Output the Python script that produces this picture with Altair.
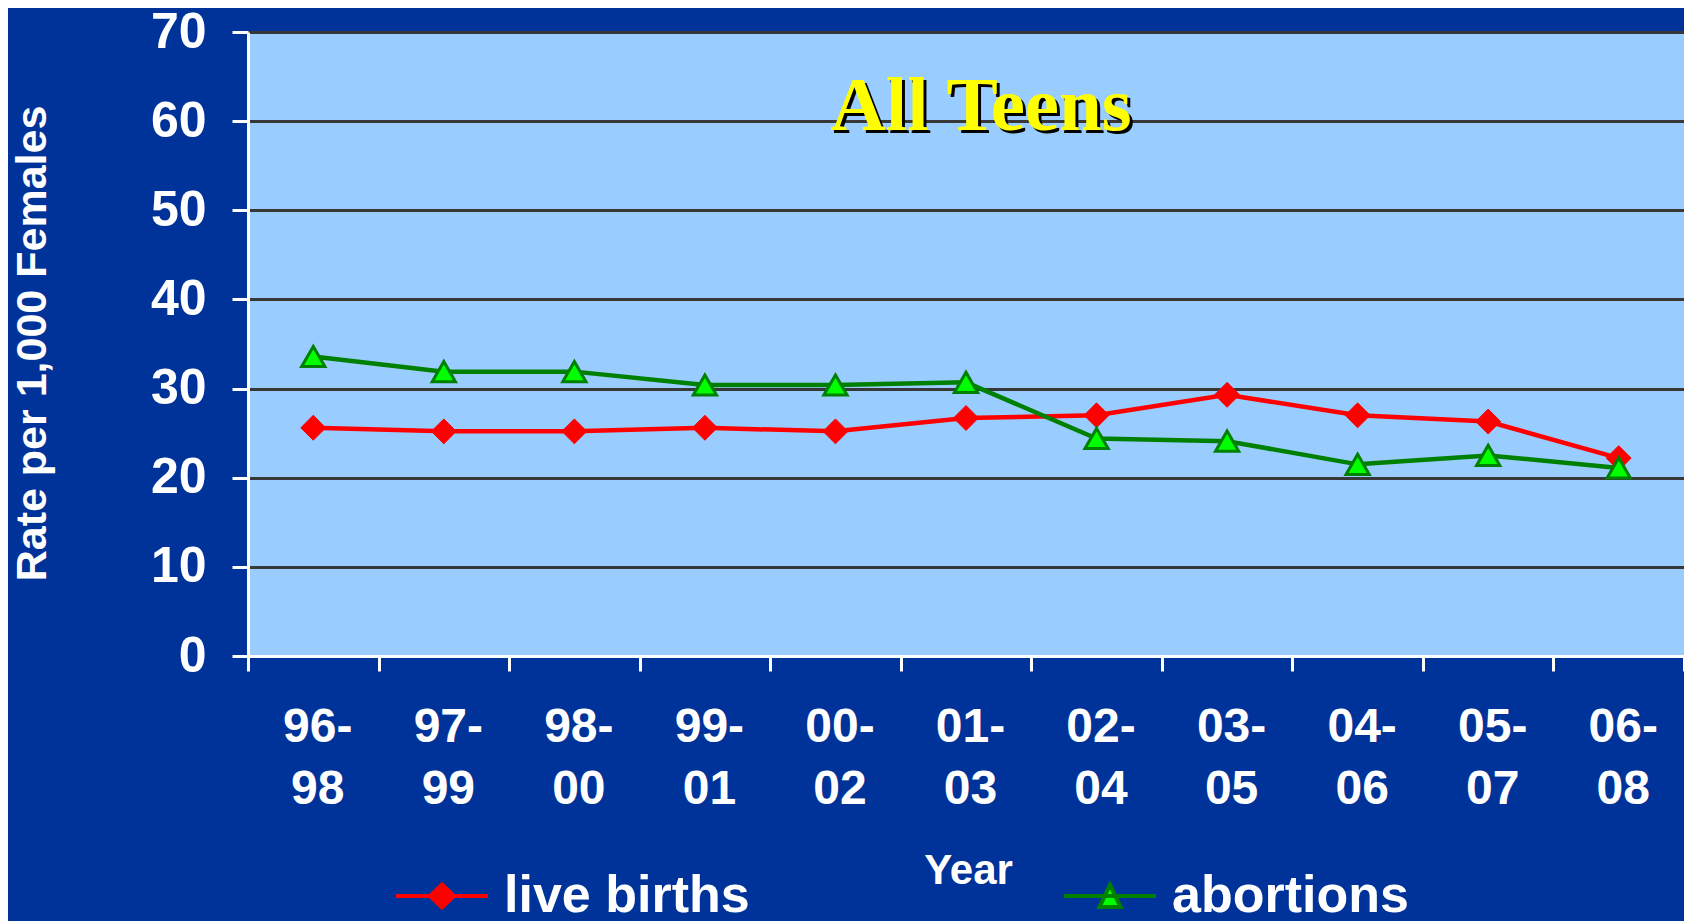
import altair as alt
import pandas as pd

# ---- data ----
periods = ["96-98", "97-99", "98-00", "99-01", "00-02", "01-03",
           "02-04", "03-05", "04-06", "05-07", "06-08"]
live_births = [25.6, 25.2, 25.2, 25.6, 25.2, 26.7, 27.0, 29.3, 27.0, 26.3, 22.2]
abortions = [33.6, 31.9, 31.9, 30.4, 30.4, 30.7, 24.4, 24.1, 21.5, 22.5, 21.1]
series_names = ["live births", "abortions"]
y_ticks = [0, 10, 20, 30, 40, 50, 60, 70]
chart_title = ["All Teens"]

df = pd.DataFrame({
    "period": periods * 2,
    "rate": live_births + abortions,
    "series": [series_names[0]] * len(periods) + [series_names[1]] * len(periods),
})

FONT = "Liberation Sans"
W, H = 1436, 624

x_enc = alt.X(
    "period:N", sort=periods,
    scale=alt.Scale(type="band", paddingInner=0, paddingOuter=0),
    axis=alt.Axis(
        title="Year", labelAngle=0, labelExpr="[slice(datum.label,0,3), slice(datum.label,3)]",
        labelFont=FONT, labelFontSize=48, labelFontWeight="bold", labelColor="white",
        labelLineHeight=62, labelPadding=32, labelOffset=4,
        tickBand="extent", tickSize=15, tickColor="white", tickWidth=3,
        domainColor="white", domainWidth=3, grid=False,
        titleFont=FONT, titleFontSize=42, titleFontWeight="bold", titleColor="white",
        titleX=720, titleY=214, titleAlign="center", titleBaseline="middle",
    ),
)
y_enc = alt.Y(
    "rate:Q",
    scale=alt.Scale(domain=[0, 70], nice=False),
    axis=alt.Axis(
        values=y_ticks, title="Rate per 1,000 Females",
        labelFont=FONT, labelFontSize=50, labelFontWeight="bold", labelColor="white",
        labelPadding=26, tickSize=16, tickColor="white", tickWidth=3,
        domainColor="white", domainWidth=3,
        grid=True, gridColor="#383838", gridWidth=3, gridOpacity=1,
        titleFont=FONT, titleFontSize=43, titleFontWeight="bold", titleColor="white",
        titleX=-216, titleY=311, titleAngle=270, titleAlign="center", titleBaseline="middle",
    ),
)

base = alt.Chart(df)

lines = base.mark_line(strokeWidth=4.5).encode(
    x=x_enc, y=y_enc,
    color=alt.Color("series:N", scale=alt.Scale(domain=series_names, range=["#FF0000", "#008000"]), legend=None),
    detail="series:N",
)

diamond_path = "M-1,0L1,0M0,-0.25L0.26,0L0,0.25L-0.26,0Z"
triangle_path = "M-1,0L1,0M0,-0.24L0.23,0.24L-0.23,0.24Z"

leg_common = dict(
    orient="none", direction="horizontal", title=None,
    labelFont=FONT, labelFontSize=52, labelFontWeight="bold", labelColor="white",
    labelLimit=600, labelOffset=14, symbolSize=8464, symbolStrokeWidth=4,
)

pts_lb = base.transform_filter(alt.datum.series == series_names[0]).mark_point(
    shape="diamond", size=620, filled=True, strokeWidth=1, opacity=1
).encode(
    x=x_enc, y=y_enc,
    fill=alt.Fill("series:N", scale=alt.Scale(domain=[series_names[0]], range=["#FF0000"]),
                  legend=alt.Legend(legendX=146, legendY=816, symbolType=diamond_path,
                                    symbolStrokeColor="#FF0000", **leg_common)),
    stroke=alt.value("#FF0000"),
)

pts_ab = base.transform_filter(alt.datum.series == series_names[1]).mark_point(
    shape="triangle-up", size=540, filled=True, strokeWidth=3, opacity=1
).encode(
    x=x_enc, y=y_enc,
    stroke=alt.Stroke("series:N", scale=alt.Scale(domain=[series_names[1]], range=["#008000"]),
                      legend=alt.Legend(legendX=814, legendY=816, symbolType=triangle_path,
                                        symbolFillColor="#00FF00", **leg_common)),
    fill=alt.value("#00FF00"),
)

tdf = pd.DataFrame({"t": chart_title})
title_shadow = alt.Chart(tdf).mark_text(
    font="Liberation Serif", fontSize=77, fontWeight="bold", color="black",
    align="center", baseline="alphabetic"
).encode(text="t:N", x=alt.value(736), y=alt.value(101))
title_front = alt.Chart(tdf).mark_text(
    font="Liberation Serif", fontSize=77, fontWeight="bold", color="#FFFF00",
    align="center", baseline="alphabetic"
).encode(text="t:N", x=alt.value(733), y=alt.value(98))

chart = alt.layer(lines, pts_lb, pts_ab, title_shadow, title_front).resolve_scale(
    fill="independent", stroke="independent"
).properties(
    width=W, height=H,
    background="#003399",
    padding={"left": 240, "top": 24, "right": 0, "bottom": 265},
    autosize=alt.AutoSizeParams(type="none"),
).configure_view(fill="#99CCFF", stroke="transparent")

chart.save("out.html", embed_options={"renderer": "svg", "actions": False})
